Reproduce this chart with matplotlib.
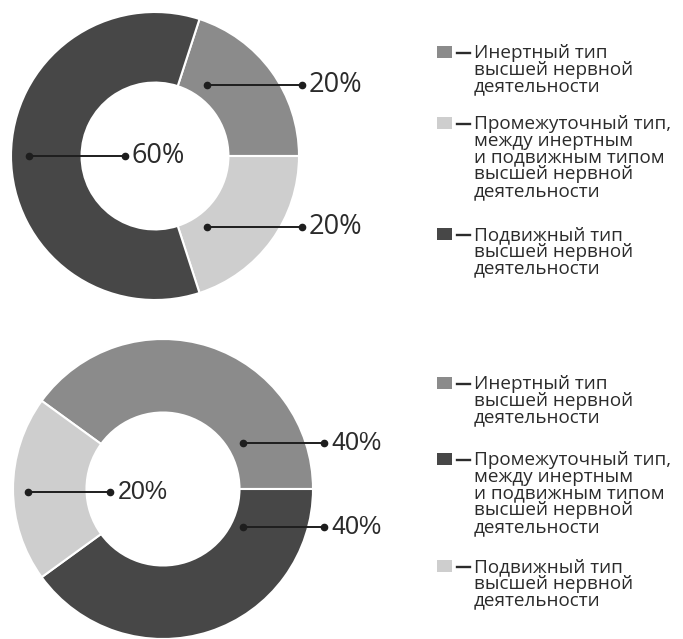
import matplotlib.pyplot as plt
from matplotlib.patches import Rectangle

W, H = 683, 639

legend_labels = [
    'Инертный тип\nвысшей нервной\nдеятельности',
    'Промежуточный тип,\nмежду инертным\nи подвижным типом\nвысшей нервной\nдеятельности',
    'Подвижный тип\nвысшей нервной\nдеятельности',
]

# upper donut (order: inert, intermediate, mobile)
top_values = [20, 20, 60]
top_colors = ['#8b8b8b', '#cecece', '#474747']

# lower donut
bottom_values = [40, 40, 20]
bottom_colors = ['#8b8b8b', '#474747', '#cecece']

TEXT = '#2b2b2b'

fig = plt.figure(figsize=(W / 100, H / 100), dpi=100)
fig.patch.set_facecolor('white')


def px(x, y):
    return x / W, 1 - y / H


def donut_axes(cx, cy, r, xlim, ylim):
    left = (cx + xlim[0] * r) / W
    right = (cx + xlim[1] * r) / W
    top = 1 - (cy - ylim[1] * r) / H
    bottom = 1 - (cy - ylim[0] * r) / H
    return fig.add_axes([left, bottom, right - left, top - bottom])


def draw_donut(ax, values, colors, startangle, xlim, ylim):
    ax.pie(values, colors=colors, startangle=startangle, counterclock=False,
           radius=1, wedgeprops=dict(width=0.49, edgecolor='white', linewidth=1.5))
    ax.set_xlim(*xlim)
    ax.set_ylim(*ylim)
    ax.axis('off')


def callout(ax, value, y, x0, x1, font, size):
    ax.plot([x0, x1], [y, y], color='#1e1e1e', lw=1.4, clip_on=False)
    ax.plot([x0, x1], [y, y], 'o', color='#1e1e1e', ms=4.5, clip_on=False)
    ax.text(x1 + 0.05, y, f'{value}%', fontsize=size, family=font, color=TEXT,
            va='center', ha='left', clip_on=False)


# ---- upper chart
xl, yl = (-1.08, 1.85), (-1.05, 1.05)
ax1 = donut_axes(155, 156, 144, xl, yl)
draw_donut(ax1, top_values, top_colors, 72, xl, yl)
callout(ax1, top_values[0], 0.49, 0.36, 1.02, 'Open Sans', 19.5)
callout(ax1, top_values[1], -0.49, 0.36, 1.02, 'Open Sans', 19.5)
callout(ax1, top_values[2], 0.0, -0.875, -0.21, 'Open Sans', 19.5)

# ---- lower chart
xl, yl = (-1.08, 1.75), (-1.0, 1.0)
ax2 = donut_axes(163, 489, 150, xl, yl)
draw_donut(ax2, bottom_values, bottom_colors, 144, xl, yl)
callout(ax2, bottom_values[0], 0.31, 0.533, 1.073, 'Liberation Sans', 18)
callout(ax2, bottom_values[1], -0.255, 0.533, 1.073, 'Liberation Sans', 18)
callout(ax2, bottom_values[2], -0.02, -0.9, -0.353, 'Liberation Sans', 18)


# ---- legends: square, dash, then the label one line at a time
LINE_STEP = 16.8


def legend(colors, baselines):
    for label, color, base in zip(legend_labels, colors, baselines):
        x, y = px(437, base)
        fig.add_artist(Rectangle((x, y), 15 / W, 12 / H, transform=fig.transFigure,
                                 facecolor=color, edgecolor='none'))
        fig.add_artist(plt.Line2D([457 / W, 470 / W], [1 - (base - 5) / H] * 2,
                                  transform=fig.transFigure, color=TEXT, lw=1.7))
        for i, line in enumerate(label.split('\n')):
            fig.text(*px(474, base + i * LINE_STEP), line, fontsize=13.6,
                     family='Open Sans', color=TEXT, va='baseline', ha='left')


legend(top_colors, [58, 129, 240])
legend(bottom_colors, [389, 465, 572])

fig.savefig('out.png', dpi=100, facecolor='white')
